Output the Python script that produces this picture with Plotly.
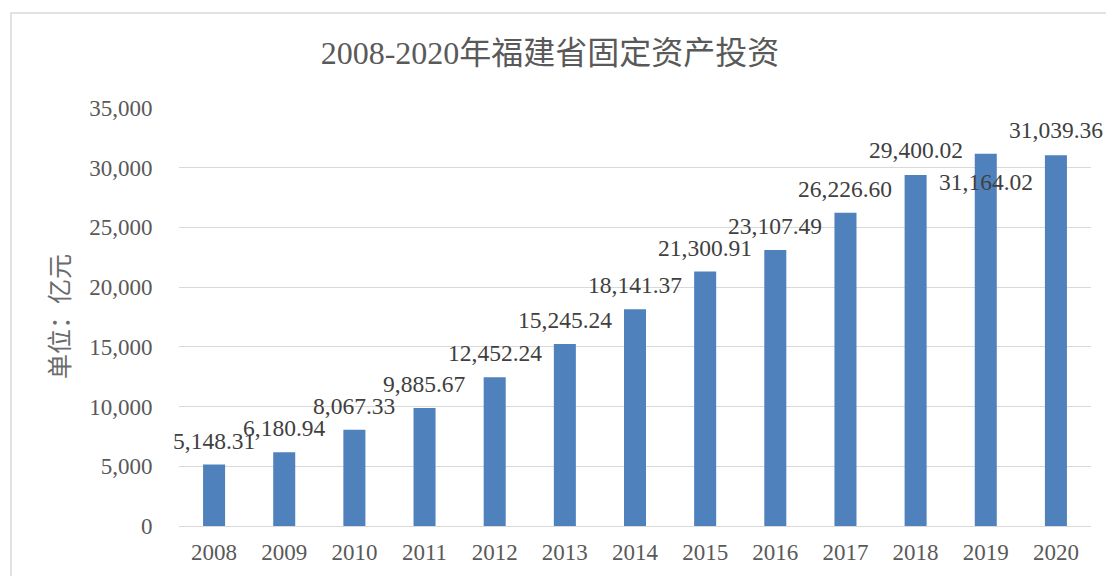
import plotly.graph_objects as go

years = ["2008", "2009", "2010", "2011", "2012", "2013", "2014",
         "2015", "2016", "2017", "2018", "2019", "2020"]
values = [5148.31, 6180.94, 8067.33, 9885.67, 12452.24, 15245.24, 18141.37,
          21300.91, 23107.49, 26226.60, 29400.02, 31164.02, 31039.36]
label_shift = [24, 24, 24, 24, 24, 24, 24, 24, 24, 24, 25, -28, 25]
y_ticks = [0, 5000, 10000, 15000, 20000, 25000, 30000, 35000]
y_tick_text = ["0", "5,000", "10,000", "15,000", "20,000", "25,000", "30,000", "35,000"]

title_text = "2008-2020年福建省固定资产投资"
y_title = "单位：亿元"

FONT = "Liberation Serif, 'Noto Sans CJK SC', serif"
W, H = 1106, 576
L, R, T, B = 179, 15, 108, 50
pw, ph = W - L - R, H - T - B

fig = go.Figure()
fig.add_trace(go.Bar(
    x=years, y=values,
    marker=dict(color="#4F81BD", line=dict(width=0)),
    hoverinfo="x+y",
))

for i, (v, s) in enumerate(zip(values, label_shift)):
    fig.add_annotation(
        x=i, y=v, xref="x", yref="y",
        text=f"{v:,.2f}", showarrow=False,
        yanchor="middle", xanchor="center", yshift=s,
        font=dict(family=FONT, size=23.5, color="#404040"),
    )

# y axis title
fig.add_annotation(
    x=(60 - L) / pw, y=0.5, xref="paper", yref="paper",
    text=y_title, showarrow=False, textangle=-90,
    xanchor="center", yanchor="middle",
    font=dict(family=FONT, size=25, color="#6B6B6B"),
)

# chart border
fig.add_shape(
    type="rect", xref="paper", yref="paper",
    x0=(11 - L) / pw, x1=(W + 5 - L) / pw,
    y0=-(H + 5 - (H - B)) / ph, y1=((H - B) - 13) / ph,
    line=dict(color="#D9D9D9", width=1.5), fillcolor="rgba(0,0,0,0)",
    layer="below",
)

fig.update_layout(
    width=W, height=H,
    margin=dict(l=L, r=R, t=T, b=B, pad=0, autoexpand=False),
    paper_bgcolor="white", plot_bgcolor="white",
    bargap=0.686,
    showlegend=False,
    title=dict(
        text=title_text, x=550 / W, xanchor="center",
        y=1 - 53 / H, yanchor="middle", yref="container", automargin=False,
        font=dict(family=FONT, size=32, color="#595959"),
    ),
    xaxis=dict(
        type="category", range=[-0.5, len(years) - 0.5], automargin=False,
        tickfont=dict(family=FONT, size=23, color="#595959"),
        showgrid=False, showline=False, zeroline=False,
        ticks="outside", ticklen=5, tickcolor="rgba(0,0,0,0)",
    ),
    yaxis=dict(
        range=[0, 35000], automargin=False,
        tickvals=y_ticks, ticktext=y_tick_text,
        tickfont=dict(family=FONT, size=23, color="#595959"),
        showgrid=True, gridcolor="#D9D9D9", gridwidth=1.3,
        zeroline=True, zerolinecolor="#D9D9D9", zerolinewidth=1.3,
        showline=False,
        ticks="outside", ticklen=21, tickcolor="rgba(0,0,0,0)",
    ),
)

fig.write_html(
    "out.html",
    config={"displayModeBar": False},
    post_script="document.body.style.margin='0';document.body.style.overflow='hidden';",
)
